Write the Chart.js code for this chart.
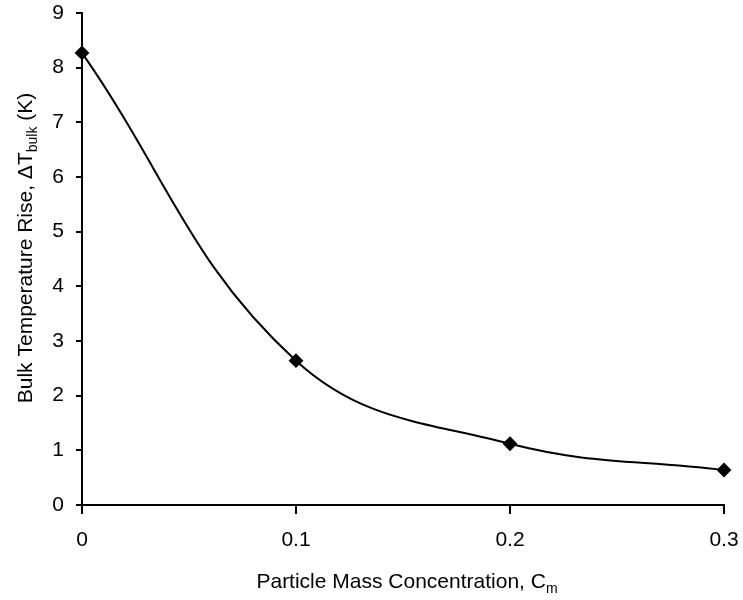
<!DOCTYPE html>
<html>
<head>
<meta charset="utf-8">
<script src="https://cdn.jsdelivr.net/npm/chart.js@4"></script>
<style>
  html, body { margin: 0; padding: 0; background: #fff; }
  #wrap { width: 743px; height: 600px; }
</style>
</head>
<body>
<div id="wrap"><canvas id="grafico" width="743" height="600"></canvas></div>
<script>
// dados
const concentracao = [0, 0.1, 0.2, 0.3];
const elevacaoTemp = [8.27, 2.64, 1.12, 0.64];
const ticksY = [0, 1, 2, 3, 4, 5, 6, 7, 8, 9];

const fonte = '"Liberation Sans", Arial, sans-serif';

// títulos dos eixos com subscrito
const titulosEixos = {
  id: 'titulosEixos',
  afterDraw(chart) {
    const ctx = chart.ctx;
    ctx.save();
    ctx.fillStyle = '#000';
    ctx.textBaseline = 'alphabetic';

    // eixo X
    const partesX = [['Particle Mass Concentration, C', 21, 0], ['m', 14, 5]];
    escreverPartes(ctx, partesX, 407, 588);

    // eixo Y
    ctx.translate(32, 248);
    ctx.rotate(-Math.PI / 2);
    const partesY = [['Bulk Temperature Rise, ', 21, 0], ['\u0394T', 21, 0], ['bulk', 14, 5], [' (K)', 21, 0]];
    escreverPartes(ctx, partesY, 0, 0);
    ctx.restore();
  }
};

function escreverPartes(ctx, partes, cx, y) {
  let total = 0;
  partes.forEach(p => {
    ctx.font = p[1] + 'px ' + fonte;
    total += ctx.measureText(p[0]).width;
  });
  let x = cx - total / 2;
  ctx.textAlign = 'left';
  partes.forEach(p => {
    ctx.font = p[1] + 'px ' + fonte;
    ctx.fillText(p[0], x, y + p[2]);
    x += ctx.measureText(p[0]).width;
  });
}

function semPadding(s) {
  s.paddingTop = 0;
  s.paddingBottom = 0;
  s.paddingLeft = 0;
  s.paddingRight = 0;
}

const ctx = document.getElementById('grafico').getContext('2d');
new Chart(ctx, {
  type: 'line',
  data: {
    datasets: [{
      data: concentracao.map((c, i) => ({ x: c, y: elevacaoTemp[i] })),
      borderColor: '#000',
      backgroundColor: '#000',
      borderWidth: 2,
      pointStyle: 'rectRot',
      pointRadius: 6,
      pointBackgroundColor: '#000',
      pointBorderColor: '#000',
      tension: 0.4,
      clip: false
    }]
  },
  options: {
    responsive: false,
    animation: false,
    layout: { padding: { top: 13, right: 19, left: 0, bottom: 0 } },
    plugins: {
      legend: { display: false },
      tooltip: { enabled: false }
    },
    scales: {
      x: {
        type: 'linear',
        min: 0,
        max: 0.3,
        afterFit(s) { s.height = 95; semPadding(s); },
        grid: { display: true, drawOnChartArea: false, drawTicks: true, tickLength: 9, color: '#000', lineWidth: 2 },
        border: { display: true, color: '#000', width: 2 },
        ticks: {
          stepSize: 0.1,
          color: '#000',
          padding: 14,
          font: { family: fonte, size: 21 },
          callback: v => String(Number(v.toFixed(1)))
        }
      },
      y: {
        min: 0,
        max: 9,
        afterFit(s) { s.width = 82; semPadding(s); },
        afterBuildTicks(s) { s.ticks = ticksY.map(v => ({ value: v })); },
        grid: { display: true, drawOnChartArea: false, drawTicks: true, tickLength: 6, color: '#000', lineWidth: 2 },
        border: { display: true, color: '#000', width: 2 },
        ticks: {
          color: '#000',
          padding: 12,
          font: { family: fonte, size: 21 }
        }
      }
    }
  },
  plugins: [titulosEixos]
});
</script>
</body>
</html>
